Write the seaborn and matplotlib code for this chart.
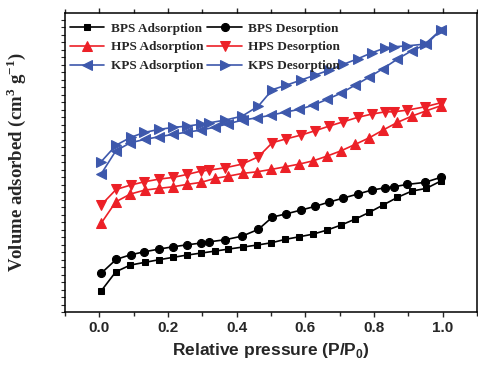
import numpy as np
import pandas as pd
import matplotlib
matplotlib.use("Agg")
import matplotlib.pyplot as plt
from matplotlib.ticker import MultipleLocator, NullFormatter
import seaborn as sns

# Relative pressure (P/P0)
ads_x = [0.005, 0.048, 0.090, 0.132, 0.173, 0.214, 0.255, 0.296, 0.337, 0.376,
         0.417, 0.459, 0.501, 0.541, 0.582, 0.623, 0.663, 0.704, 0.745, 0.786,
         0.826, 0.868, 0.910, 0.952, 0.994]
des_x = [0.005, 0.049, 0.091, 0.131, 0.174, 0.215, 0.256, 0.296, 0.320, 0.366,
         0.416, 0.463, 0.504, 0.545, 0.587, 0.628, 0.669, 0.710, 0.752, 0.793,
         0.833, 0.857, 0.897, 0.948, 0.994]

# Volume adsorbed (arbitrary units, axis is unlabeled)
bps_ads = [21, 40.3, 47, 49.7, 52.3, 54.7, 57, 59, 61, 63, 65, 67, 69.3, 72.7, 75.3,
           78, 82, 87, 93, 99.7, 107, 114.7, 121, 123.7, 131]
bps_des = [38.7, 52.7, 57.3, 60.3, 63, 65.3, 67.3, 69, 70.3, 72.3, 76, 82.7, 95, 98.3,
           102, 105.7, 110, 114, 118, 122, 124.3, 125.3, 127.7, 129.7, 134.7]
hps_ads = [88.7, 110.3, 118, 122, 123.7, 125.3, 127.7, 129.7, 133.7, 136, 138.7, 140.3,
           142.7, 145.3, 148, 151.3, 156, 161.3, 167.7, 174.3, 182, 189.7, 196, 201.3, 206.3]
hps_des = [107, 122.7, 127, 130.3, 133, 134.7, 137.7, 141, 142, 144.3, 148, 155.3, 169.5,
           173.3, 177, 181.3, 186, 190.3, 194.7, 198, 200.3, 200.3, 202, 205.3, 209.3]
kps_ads = [138, 161.3, 169.3, 172.7, 175.3, 177.7, 180, 182, 185, 188.5, 192, 194.3, 197,
           200, 202.7, 207, 212.7, 219, 227, 235, 243.5, 253, 261.5, 267.7, 282]
kps_des = [150.3, 167, 174.7, 179.7, 182.7, 184.7, 186, 188, 189.3, 192, 196, 206, 222.5,
           227, 232, 237, 242, 247.7, 253.3, 259.3, 264.3, 265.3, 266.3, 268, 282]

labels = ["BPS Adsorption", "HPS Adsorption", "KPS Adsorption",
          "BPS Desorption", "HPS Desorption", "KPS Desorption"]

sns.set_theme(style="ticks")
plt.rcParams['font.family'] = ['DejaVu Sans']

fig = plt.figure(figsize=(4.78, 3.65), dpi=100)
ax = fig.add_axes([0.136, 0.145, 0.862, 0.819])

BLACK = "#000000"
RED = "#EC2027"
BLUE = "#3D58AC"

series = [
    (ads_x, bps_ads, "BPS Adsorption", BLACK, "s", 5.0),
    (ads_x, hps_ads, "HPS Adsorption", RED, "^", 7.0),
    (ads_x, kps_ads, "KPS Adsorption", BLUE, "<", 7.0),
    (des_x, bps_des, "BPS Desorption", BLACK, "o", 5.8),
    (des_x, hps_des, "HPS Desorption", RED, "v", 7.0),
    (des_x, kps_des, "KPS Desorption", BLUE, ">", 7.0),
]

for xs, ys, lab, col, mk, ms in series:
    df = pd.DataFrame({"x": xs, "y": ys})
    sns.lineplot(data=df, x="x", y="y", ax=ax, color=col, marker=mk,
                 markersize=ms, markeredgecolor=col, markerfacecolor=col,
                 linewidth=1.2, label=lab, sort=False, estimator=None)

ax.set_xlim(-0.1, 1.1)
ax.set_ylim(0, 299)

ax.xaxis.set_major_locator(MultipleLocator(0.2))
ax.xaxis.set_minor_locator(MultipleLocator(0.1))
ax.yaxis.set_major_locator(MultipleLocator(30))
ax.yaxis.set_minor_locator(MultipleLocator(7.5))
ax.yaxis.set_major_formatter(NullFormatter())
ax.tick_params(axis="x", which="both", direction="out", length=3, width=1,
               top=True, labelsize=11, pad=3)
ax.tick_params(axis="y", which="both", direction="out", length=3, width=0.8,
               labelleft=False)
ax.tick_params(axis="x", which="major", length=3.5)
for lab in ax.get_xticklabels():
    lab.set_fontweight("bold")
    lab.set_family("Liberation Sans")
for sp in ax.spines.values():
    sp.set_linewidth(1.1)
    sp.set_color("black")

ax.set_xlabel("Relative pressure (P/P$_\\mathregular{0}$)", fontsize=12.5,
              fontweight="bold", family="Liberation Sans", labelpad=4)
ax.set_ylabel("Volume adsorbed (cm$^\\mathregular{3}$ g$^\\mathregular{-1}$)",
              fontsize=13.5, fontweight="bold", family="Liberation Serif", labelpad=24)

handles, labs = ax.get_legend_handles_labels()
order = [labs.index(l) for l in labels]
leg = ax.legend([handles[i] for i in order], [labs[i] for i in order], ncol=2,
                loc="upper left", frameon=False, bbox_to_anchor=(-0.01, 1.0),
                prop={"family": "Liberation Serif", "weight": "bold", "size": 9.5},
                handlelength=2.6, handletextpad=0.5, columnspacing=0.3,
                labelspacing=0.5, borderaxespad=0.3)

fig.savefig("out.png", dpi=100)
